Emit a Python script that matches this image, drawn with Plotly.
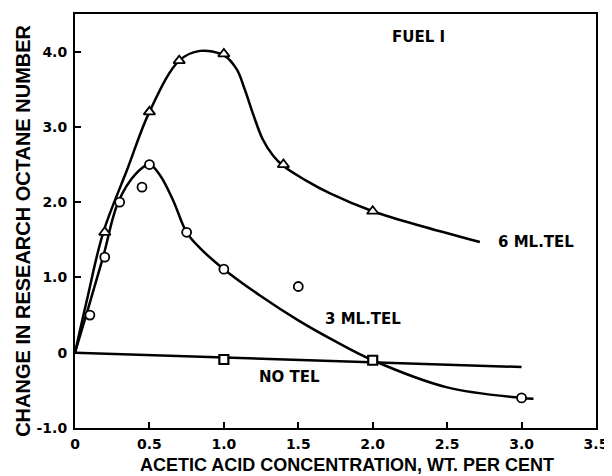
import plotly.graph_objects as go

# --- data ---
tel6_x = [0.2, 0.5, 0.7, 1.0, 1.4, 2.0]
tel6_y = [1.6, 3.2, 3.88, 3.97, 2.5, 1.88]
tel6_curve_x = [0, 0.08, 0.19, 0.35, 0.5, 0.7, 0.84, 1.0, 1.085, 1.14, 1.2, 1.26, 1.33, 1.4, 1.55, 1.71, 2.0, 2.35, 2.72]
tel6_curve_y = [0, 0.7, 1.6, 2.43, 3.2, 3.88, 4.01, 3.95, 3.77, 3.5, 3.15, 2.84, 2.62, 2.48, 2.29, 2.12, 1.88, 1.67, 1.47]

tel3_x = [0.1, 0.2, 0.3, 0.45, 0.5, 0.75, 1.0, 1.5, 3.0]
tel3_y = [0.5, 1.27, 2.0, 2.2, 2.5, 1.6, 1.11, 0.88, -0.6]
tel3_curve_x = [0, 0.09, 0.19, 0.29, 0.41, 0.5, 0.57, 0.66, 0.75, 0.84, 1.0, 1.25, 1.5, 1.75, 2.0, 2.5, 3.0, 3.08]
tel3_curve_y = [0, 0.6, 1.28, 2.0, 2.38, 2.5, 2.36, 2.02, 1.6, 1.39, 1.11, 0.75, 0.43, 0.15, -0.1, -0.46, -0.6, -0.61]

notel_x = [1.0, 2.0]
notel_y = [-0.09, -0.1]
notel_line_x = [0, 3.0]
notel_line_y = [0, -0.19]

x_ticks = [0, 0.5, 1.0, 1.5, 2.0, 2.5, 3.0, 3.5]
x_tick_labels = ["0", "0.5", "1.0", "1.5", "2.0", "2.5", "3.0", "3.5"]
y_ticks = [-1, 0, 1, 2, 3, 4]
y_tick_labels = ["-1.0", "0", "1.0", "2.0", "3.0", "4.0"]

labels = [
    ("FUEL I", 2.31, 4.19, "center"),
    ("6 ML.TEL", 2.83, 1.47, "left"),
    ("3 ML.TEL", 1.665, 0.45, "left"),
    ("NO TEL", 1.22, -0.32, "left"),
]

BLACK = "black"
fig = go.Figure()

fig.add_trace(go.Scatter(x=tel6_curve_x, y=tel6_curve_y, mode="lines",
                         line=dict(color=BLACK, width=2.5, shape="spline", smoothing=1.0),
                         hoverinfo="skip"))
fig.add_trace(go.Scatter(x=tel3_curve_x, y=tel3_curve_y, mode="lines",
                         line=dict(color=BLACK, width=2.5, shape="spline", smoothing=1.0),
                         hoverinfo="skip"))
fig.add_trace(go.Scatter(x=notel_line_x, y=notel_line_y, mode="lines",
                         line=dict(color=BLACK, width=2.5), hoverinfo="skip"))

fig.add_trace(go.Scatter(x=tel6_x, y=tel6_y, mode="markers",
                         marker=dict(symbol="triangle-up", size=10, color="white",
                                     line=dict(color=BLACK, width=1.8))))
fig.add_trace(go.Scatter(x=tel3_x, y=tel3_y, mode="markers",
                         marker=dict(symbol="circle", size=9, color="white",
                                     line=dict(color=BLACK, width=1.8))))
fig.add_trace(go.Scatter(x=notel_x, y=notel_y, mode="markers",
                         marker=dict(symbol="square", size=9, color="white",
                                     line=dict(color=BLACK, width=2.2))))

for text, x, y, anchor in labels:
    fig.add_annotation(x=x, y=y, xref="x", yref="y", text=text, showarrow=False,
                       xanchor=anchor, yanchor="middle",
                       font=dict(family="DejaVu Sans", size=15, color=BLACK, weight="bold"))

fig.add_annotation(x=-0.1, y=0.476, xref="paper", yref="paper",
                   text="CHANGE IN RESEARCH OCTANE NUMBER", showarrow=False,
                   textangle=-90, xanchor="center", yanchor="middle",
                   font=dict(family="Liberation Sans", size=20, color=BLACK, weight="bold"))
fig.add_annotation(x=0.522, y=-0.089, xref="paper", yref="paper",
                   text="ACETIC ACID CONCENTRATION, WT. PER CENT", showarrow=False,
                   xanchor="center", yanchor="middle", borderpad=0,
                   font=dict(family="Liberation Sans", size=18, color=BLACK, weight="bold"))

axis_common = dict(showgrid=False, zeroline=False, showline=True, linecolor=BLACK,
                   linewidth=2, mirror=True, ticks="inside", ticklen=6, tickwidth=1.5,
                   tickcolor=BLACK,
                   tickfont=dict(family="DejaVu Sans", size=14, color=BLACK, weight="bold"))

fig.update_xaxes(range=[0, 3.5], tickvals=x_ticks, ticktext=x_tick_labels,
                 ticklabelstandoff=2, **axis_common)
fig.update_yaxes(range=[-1, 4.5], tickvals=y_ticks, ticktext=y_tick_labels,
                 ticklabelstandoff=3, **axis_common)

# the page adds an 8px body margin, so the figure is 8px smaller and shifted
fig.update_layout(width=604, height=468, showlegend=False,
                  margin=dict(l=67, r=15, t=4, b=48),
                  plot_bgcolor="white", paper_bgcolor="white")

fig.write_html("out.html")
